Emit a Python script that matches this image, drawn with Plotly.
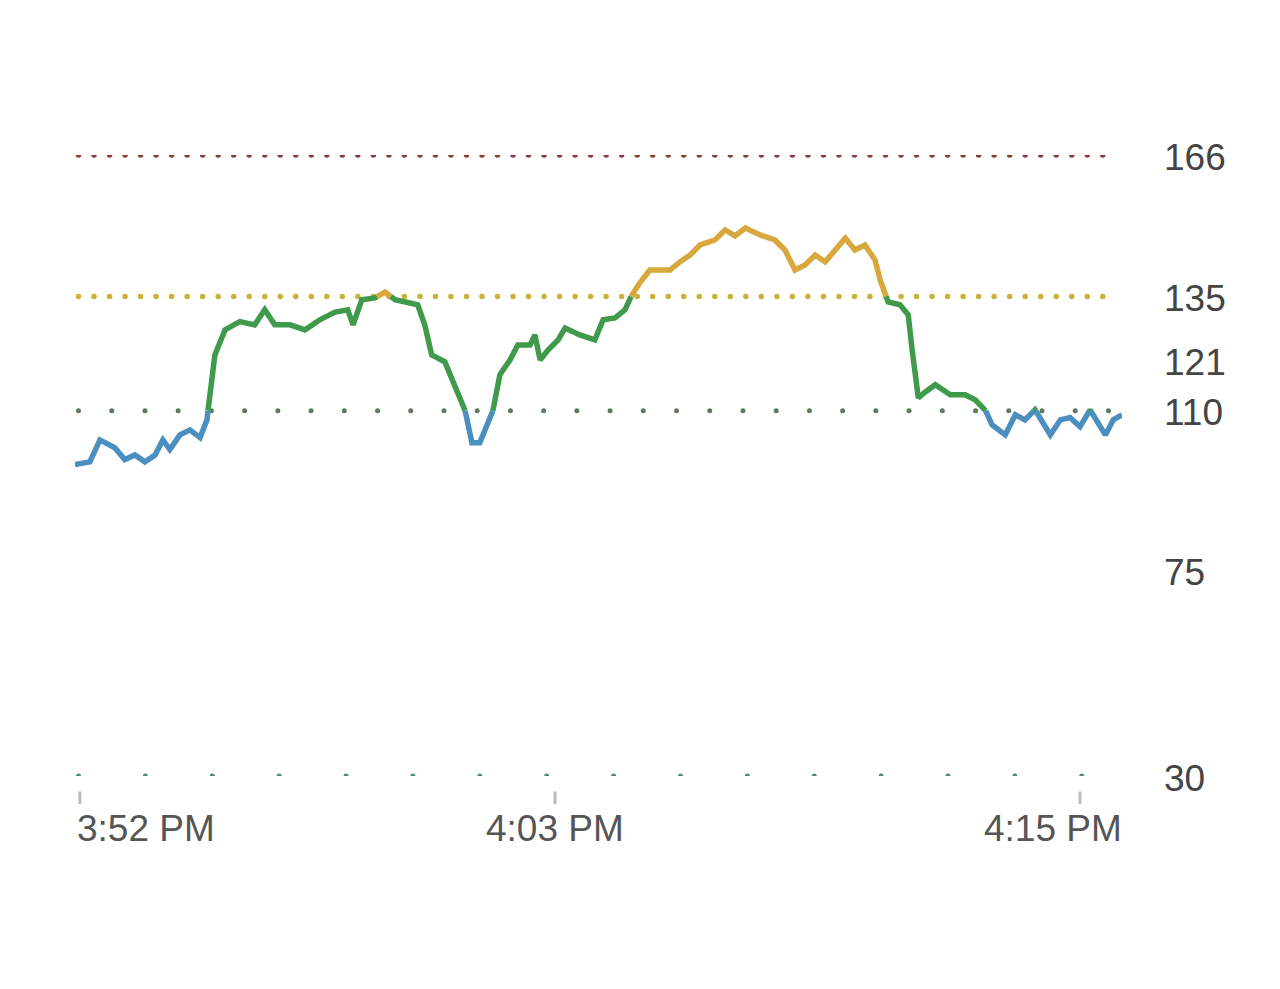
import plotly.graph_objects as go
import numpy as np

minutes = [-0.11,0.23,0.46,0.80,1.03,1.26,1.49,1.72,1.90,2.06,2.29,2.52,2.75,2.91,2.97,3.09,3.32,3.66,4.00,4.23,4.46,4.81,5.15,5.49,5.84,6.13,6.25,6.45,6.75,6.98,7.21,7.55,7.73,7.89,8.05,8.35,8.58,8.81,8.97,9.15,9.31,9.43,9.61,9.84,10.02,10.30,10.41,10.53,10.71,10.94,11.10,11.44,11.78,11.97,12.24,12.47,12.59,12.81,13.04,13.50,13.73,13.96,14.19,14.53,14.76,14.99,15.22,15.56,15.90,16.13,16.36,16.59,16.82,17.05,17.28,17.51,17.73,17.96,18.19,18.31,18.49,18.76,18.95,19.04,19.18,19.34,19.57,19.91,20.25,20.48,20.71,20.87,21.17,21.40,21.62,21.85,22.08,22.20,22.43,22.65,22.88,23.11,23.30,23.46,23.64,23.84]
bpm = [98.2,98.8,103.6,101.9,99.3,100.3,98.8,100.3,103.6,101.5,104.7,105.8,104.1,108,113.5,122.2,127.7,129.5,128.8,132.1,128.8,128.8,127.7,129.9,131.6,132.1,128.8,134.3,134.7,136,134.3,133.6,133.2,128.8,122.2,120.7,115.7,110.2,103,103,106.9,109.1,117.9,121.1,124.4,124.4,126.6,121.1,123.3,125.5,128.1,126.6,125.5,129.9,130.3,132.1,134.7,138,140.8,140.8,142.6,144.1,146.3,147.4,149.6,148.3,150,148.5,147.4,145.2,140.8,141.9,144.1,142.6,145.2,147.8,145.2,146.3,143,138.6,133.8,133.2,131,123.3,112.8,114.1,115.7,113.5,113.5,112.4,110.2,106.9,104.7,109.1,108,110.2,106.9,104.7,108,108.5,106.5,110.2,106.9,104.7,108,109.1]
zone_levels = [166, 135, 110, 30]
axis_labels = [166, 135, 121, 110, 75, 30]
tick_minutes = [0, 10.87, 22.88]
tick_text = ["3:52 PM", "4:03 PM", "4:15 PM"]

BLUE, GREEN, YELLOW = "#4a8fc0", "#3f9a4c", "#d8a83c"
def col(v):
    return BLUE if v < 110 else (GREEN if v < 135 else YELLOW)

segs = []
cur_c = col(bpm[0]); cur = [(minutes[0], bpm[0])]
for i in range(1, len(bpm)):
    x0, y0, x1, y1 = minutes[i-1], bpm[i-1], minutes[i], bpm[i]
    cross = []
    for th in (110, 135):
        if (y0 - th) * (y1 - th) < 0:
            f = (th - y0) / (y1 - y0)
            cross.append((f, x0 + f*(x1-x0), th))
    cross.sort()
    for f, xc, th in cross:
        cur.append((xc, th))
        segs.append((cur_c, cur))
        cur = [(xc, th)]
        cur_c = col(th + (0.01 if y1 > y0 else -0.01))
    cur.append((x1, y1))
segs.append((cur_c, cur))

fig = go.Figure()
dot_specs = {166: ("#8a3c3c", 0.355, 5.5), 135: ("#c9b236", 0.355, 5.5), 110: ("#5d7a5d", 0.76, 5), 30: ("#4f8a7c", 1.53, 5)}
for lv in zone_levels:
    c, step, sz = dot_specs[lv]
    xs = np.arange(-0.03, 23.7, step)
    fig.add_trace(go.Scatter(x=xs, y=[lv]*len(xs), mode="markers",
                             marker=dict(size=sz, color=c), hoverinfo="skip", showlegend=False))
for c, pts in segs:
    fig.add_trace(go.Scatter(x=[p[0] for p in pts], y=[p[1] for p in pts], mode="lines",
                             line=dict(color=c, width=5.5), showlegend=False))

for v in axis_labels:
    fig.add_annotation(x=1.033, xref="paper", y=v, yref="y", text=str(v), showarrow=False,
                       xanchor="left", yshift=-2, xshift=5,
                       font=dict(size=37, color="#444444", family="Liberation Sans"))
anchors = ["left", "center", "right"]
shifts = [-5, 0, 44]
for t, lab, a, s in zip(tick_minutes, tick_text, anchors, shifts):
    fig.add_shape(type="line", x0=t, x1=t, xref="x", y0=-0.025, y1=-0.045, yref="paper",
                  line=dict(color="#bbbbbb", width=3))
    fig.add_annotation(x=t, xref="x", y=-0.048, yref="paper", text=lab, showarrow=False,
                       xanchor=a, yanchor="top", xshift=s,
                       font=dict(size=37, color="#555555", family="Liberation Sans"))

fig.update_layout(width=1280, height=989, plot_bgcolor="white", paper_bgcolor="white",
                  margin=dict(l=67, r=166, t=147, b=221),
                  xaxis=dict(range=[-0.11, 23.84], visible=False),
                  yaxis=dict(range=[30, 166], visible=False))
fig.write_html("out.html")
